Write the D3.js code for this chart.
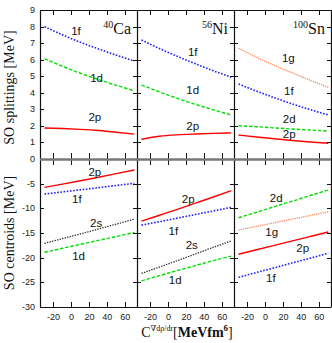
<!DOCTYPE html>
<html>
<head>
<meta charset="utf-8">
<script src="https://cdn.jsdelivr.net/npm/d3@7"></script>
<style>
  html, body { margin: 0; padding: 0; background: #fff; }
  svg { display: block; }
  .tick-lab { font-family: "Liberation Sans", Arial, sans-serif; font-size: 9px; fill: #222; }
  .curve-lab { font-family: "Liberation Sans", Arial, sans-serif; font-size: 11.5px; fill: #111; }
  .serif { font-family: "Liberation Serif", "DejaVu Serif", serif; fill: #111; }
</style>
</head>
<body>
<svg id="chart" width="332" height="343"></svg>
<script>
// ─── Data ────────────────────────────────────────────────────────────────────
const xGrid = [-30, -10, 10, 30, 50, 70];
const nuclei = [['40', 'Ca'], ['56', 'Ni'], ['100', 'Sn']];
const xTicks = [-20, 0, 20, 40, 60];
const topTicks = [0, 1, 2, 3, 4, 5, 6, 7, 8, 9];
const botTicks = [-30, -25, -20, -15, -10, -5];

// spin-orbit splittings [MeV]
const splitCa = [
  ['1f', [8.0, 7.5, 7.05, 6.65, 6.27, 5.92]],
  ['1d', [6.06, 5.6, 5.18, 4.8, 4.45, 4.12]],
  ['2p', [1.87, 1.84, 1.79, 1.72, 1.62, 1.5]]
];
const splitNi = [
  ['1f', [7.19, 6.67, 6.2, 5.75, 5.33, 4.94]],
  ['1d', [4.47, 4.05, 3.66, 3.3, 2.97, 2.66]],
  ['2p', [1.19, 1.37, 1.46, 1.51, 1.55, 1.58]]
];
const splitSn = [
  ['1g', [6.69, 6.15, 5.65, 5.2, 4.75, 4.33]],
  ['1f', [4.53, 4.1, 3.7, 3.33, 2.98, 2.66]],
  ['2d', [2.01, 1.95, 1.88, 1.81, 1.75, 1.69]],
  ['2p', [1.45, 1.33, 1.22, 1.12, 1.03, 0.95]]
];

// spin-orbit centroids [MeV]
const centCa = [
  ['2p', [-5.74, -5.1, -4.42, -3.7, -2.97, -2.23]],
  ['1f', [-7.1, -6.68, -6.25, -5.81, -5.37, -4.93]],
  ['2s', [-17.1, -16.15, -15.18, -14.2, -13.2, -12.2]],
  ['1d', [-18.9, -18.1, -17.3, -16.5, -15.7, -14.9]]
];
const centNi = [
  ['2p', [-12.6, -11.4, -10.2, -8.95, -7.7, -6.4]],
  ['1f', [-13.4, -12.7, -11.98, -11.26, -10.53, -9.8]],
  ['2s', [-23.2, -21.9, -20.6, -19.25, -17.9, -16.6]],
  ['1d', [-24.7, -23.65, -22.6, -21.6, -20.6, -19.7]]
];
const centSn = [
  ['2d', [-11.9, -10.8, -9.65, -8.55, -7.4, -6.3]],
  ['1g', [-14.4, -13.66, -12.92, -12.18, -11.44, -10.7]],
  ['2p', [-19.3, -18.4, -17.5, -16.6, -15.7, -14.8]],
  ['1f', [-24.0, -23.0, -22.05, -21.05, -20.1, -19.1]]
];

// curve label anchors, in data units [name, x, y]
const labSplitCa = [['1f', 5, 7.73], ['1d', 28, 4.9], ['2p', 26, 2.54]];
const labSplitNi = [['1f', 27, 6.45], ['1d', 27, 4.17], ['2p', 27, 1.99]];
const labSplitSn = [['1g', 25.5, 6.12], ['1f', 26, 4.13], ['2d', 26.5, 2.42], ['2p', 26.5, 1.49]];
const labCentCa = [['2p', 26, -2.7], ['1f', 6, -8.2], ['2s', 27.5, -13.0], ['1d', 8, -19.7]];
const labCentNi = [['2p', 22, -8.2], ['1f', 5.5, -14.5], ['2s', 26, -17.4], ['1d', 7.5, -24.5]];
const labCentSn = [['2d', 12, -8.0], ['1g', 7, -14.7], ['2p', 41.5, -18.1], ['1f', 6, -24.2]];

const STYLE = {
  '2p': { c: '#ff0000', dash: null,      w: 1.4 },
  '1f': { c: '#2020ff', dash: '1.6,1.6', w: 1.6 },
  '1d': { c: '#00e000', dash: '3.5,1.8', w: 1.4 },
  '2d': { c: '#00e000', dash: '3.5,1.8', w: 1.4 },
  '2s': { c: '#333333', dash: '1.4,1.2', w: 1.3 },
  '1g': { c: '#ff8050', dash: '1.2,1.0', w: 1.3 }
};

// ─── Layout ──────────────────────────────────────────────────────────────────
const L = 40, R = 331, T = 10, MID = 159, B = 307;
const PW = (R - L) / 3;
const svg = d3.select('#chart');

const yTop = d3.scaleLinear().domain([0, 9]).range([MID, T]);
const yBot = d3.scaleLinear().domain([-30, 0]).range([B, MID]);

const splits = [splitCa, splitNi, splitSn];
const cents  = [centCa, centNi, centSn];
const labsTop = [labSplitCa, labSplitNi, labSplitSn];
const labsBot = [labCentCa, labCentNi, labCentSn];

function drawSeries(g, x, y, series, labs) {
  const line = d3.line().x((d, i) => x(xGrid[i])).y(d => y(d)).curve(d3.curveMonotoneX);
  series.forEach(([name, vals]) => {
    const s = STYLE[name];
    g.append('path').attr('d', line(vals))
      .attr('fill', 'none').attr('stroke', s.c).attr('stroke-width', s.w)
      .attr('stroke-dasharray', s.dash);
  });
  labs.forEach(([name, lx, ly]) => {
    g.append('text').attr('class', 'curve-lab')
      .attr('x', x(lx)).attr('y', y(ly))
      .attr('text-anchor', 'middle').attr('dominant-baseline', 'central')
      .text(name);
  });
}

for (let p = 0; p < 3; p++) {
  const x0 = L + p * PW;
  const x = d3.scaleLinear().domain([-35, 73]).range([x0, x0 + PW]);
  const g = svg.append('g');

  drawSeries(g, x, yTop, splits[p], labsTop[p]);
  drawSeries(g, x, yBot, cents[p], labsBot[p]);

  // x ticks (top edge, middle line both ways, bottom edge)
  xTicks.forEach(t => {
    const xx = Math.round(x(t)) + 0.5;
    g.append('line').attr('x1', xx).attr('x2', xx).attr('y1', T).attr('y2', T + 5);
    g.append('line').attr('x1', xx).attr('x2', xx).attr('y1', MID - 6).attr('y2', MID + 6);
    g.append('line').attr('x1', xx).attr('x2', xx).attr('y1', B - 5).attr('y2', B);
    g.append('text').attr('class', 'tick-lab').attr('x', x(t)).attr('y', B + 13)
      .attr('text-anchor', 'middle').text(t);
  });
  g.selectAll('line').attr('stroke', '#111').attr('stroke-width', 1);

  // nucleus label
  const nt = g.append('text').attr('class', 'serif')
    .attr('x', x0 + PW - 6).attr('y', T + 24).attr('text-anchor', 'end')
    .attr('font-size', 16);
  nt.append('tspan').attr('font-size', 10).attr('dy', -6).text(nuclei[p][0]);
  nt.append('tspan').attr('dy', 6).text(nuclei[p][1]);
}

// y ticks on every vertical border
const ax = svg.append('g').attr('stroke', '#111').attr('stroke-width', 1);
[0, 1, 2, 3].forEach(k => {
  const xx = L + k * PW;
  const lo = k === 0 ? 0 : 4, hi = k === 3 ? 0 : 4;
  topTicks.forEach(t => {
    const yy = Math.round(yTop(t)) + 0.5;
    ax.append('line').attr('x1', xx - lo).attr('x2', xx + hi).attr('y1', yy).attr('y2', yy);
  });
  botTicks.concat([0]).forEach(t => {
    const yy = Math.round(yBot(t)) + 0.5;
    ax.append('line').attr('x1', xx - lo).attr('x2', xx + hi).attr('y1', yy).attr('y2', yy);
  });
});

// frames
ax.append('line').attr('x1', L).attr('x2', R).attr('y1', T + 0.5).attr('y2', T + 0.5);
ax.append('line').attr('x1', L).attr('x2', R).attr('y1', B + 0.5).attr('y2', B + 0.5);
[0, 1, 2, 3].forEach(k => {
  const xx = Math.round(L + k * PW) + 0.5;
  ax.append('line').attr('x1', xx).attr('x2', xx).attr('y1', T).attr('y2', B + 0.5)
    .attr('stroke-width', 1.2);
});
svg.append('line').attr('x1', L).attr('x2', R).attr('y1', MID + 0.5).attr('y2', MID + 0.5)
  .attr('stroke', '#777').attr('stroke-width', 2.4);

// y tick labels
topTicks.forEach(t => {
  svg.append('text').attr('class', 'tick-lab').attr('x', L - 5).attr('y', yTop(t))
    .attr('text-anchor', 'end').attr('dominant-baseline', 'central').text(t);
});
botTicks.forEach(t => {
  svg.append('text').attr('class', 'tick-lab').attr('x', L - 5).attr('y', yBot(t))
    .attr('text-anchor', 'end').attr('dominant-baseline', 'central').text(t);
});

// axis titles
svg.append('text').attr('class', 'serif').attr('font-size', 14)
  .attr('transform', `translate(14,${(T + MID) / 2 + 3}) rotate(-90)`)
  .attr('text-anchor', 'middle').text('SO splittings [MeV]');
svg.append('text').attr('class', 'serif').attr('font-size', 14)
  .attr('transform', `translate(14,${(MID + B) / 2}) rotate(-90)`)
  .attr('text-anchor', 'middle').text('SO centroids [MeV]');

const xt = svg.append('text').attr('class', 'serif').attr('font-size', 14)
  .attr('x', 187).attr('y', 337).attr('text-anchor', 'middle');
xt.append('tspan').text('C');
xt.append('tspan').attr('font-size', 8).attr('dy', -6).text('∇dρ/dr');
xt.append('tspan').attr('dy', 6).text('[');
xt.append('tspan').attr('font-weight', 'bold').text('MeVfm');
xt.append('tspan').attr('font-size', 9).attr('font-weight', 'bold').attr('dy', -6).text('6');
xt.append('tspan').attr('dy', 6).text(']');
</script>
</body>
</html>
